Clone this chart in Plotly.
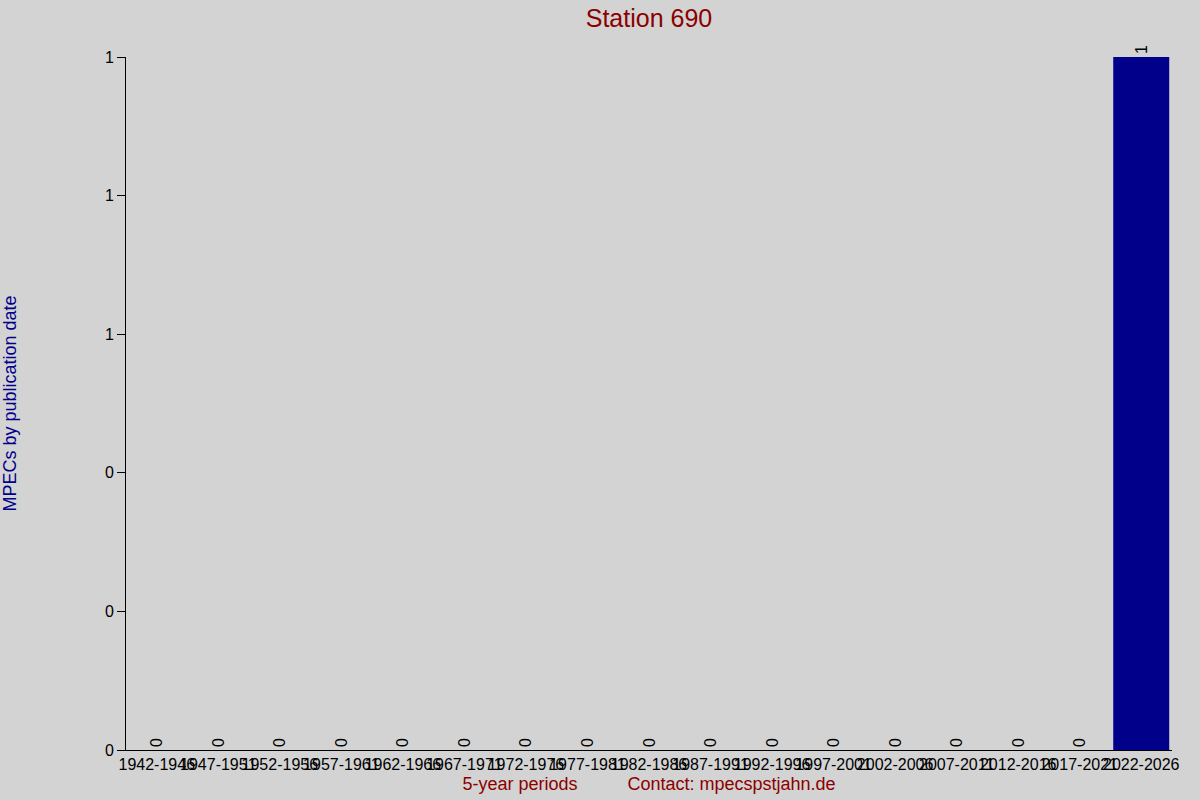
import plotly.graph_objects as go

# 5-year periods and MPEC counts
periods = ['1942-1946', '1947-1951', '1952-1956', '1957-1961', '1962-1966',
           '1967-1971', '1972-1976', '1977-1981', '1982-1986', '1987-1991',
           '1992-1996', '1997-2001', '2002-2006', '2007-2011', '2012-2016',
           '2017-2021', '2022-2026']
counts = [0, 0, 0, 0, 0, 0, 0, 0, 0, 0, 0, 0, 0, 0, 0, 0, 1]

# y ticks rounded to whole numbers like the original
y_ticks = [0, 0.2, 0.4, 0.6, 0.8, 1.0]
y_tick_text = ['0', '0', '0', '1', '1', '1']

fig = go.Figure(go.Bar(
    x=periods,
    y=counts,
    marker=dict(color='#00008b', line=dict(width=0)),
    text=[str(c) for c in counts],
    textposition='outside',
    textangle=-90,
    textfont=dict(color='black', size=16),
    cliponaxis=False,
))

fig.update_layout(
    width=1200, height=800,
    paper_bgcolor='#d3d3d3',
    plot_bgcolor='#d3d3d3',
    font=dict(family='Liberation Sans, Arial, sans-serif', color='black', size=16),
    margin=dict(l=126, r=28, t=57, b=50),
    bargap=0.09,
    showlegend=False,
    title=dict(text='Station 690', x=0.5408, xanchor='center', y=0.977, yanchor='middle',
               font=dict(size=25, color='#8b0000')),
)

fig.update_xaxes(
    range=[-0.5, 16.5],
    showline=True, linecolor='black', linewidth=1,
    showgrid=False, ticks='', tickangle=0,
    tickfont=dict(size=16), automargin=False,
    title=dict(text='5-year periods' + '\u00a0' * 10 + 'Contact: mpecspstjahn.de',
               font=dict(size=18, color='#8b0000'), standoff=5),
)

fig.update_yaxes(
    range=[0, 1],
    tickvals=y_ticks, ticktext=y_tick_text,
    showline=True, linecolor='black', linewidth=1,
    showgrid=False, zeroline=False,
    ticks='outside', ticklen=8, tickcolor='black',
    tickfont=dict(size=16), automargin=False,
    title=dict(text='MPECs by publication date', font=dict(size=18, color='#00008b'), standoff=83),
)

fig.write_html("out.html", config={'displayModeBar': False},
               post_script="document.body.style.margin='0';")
